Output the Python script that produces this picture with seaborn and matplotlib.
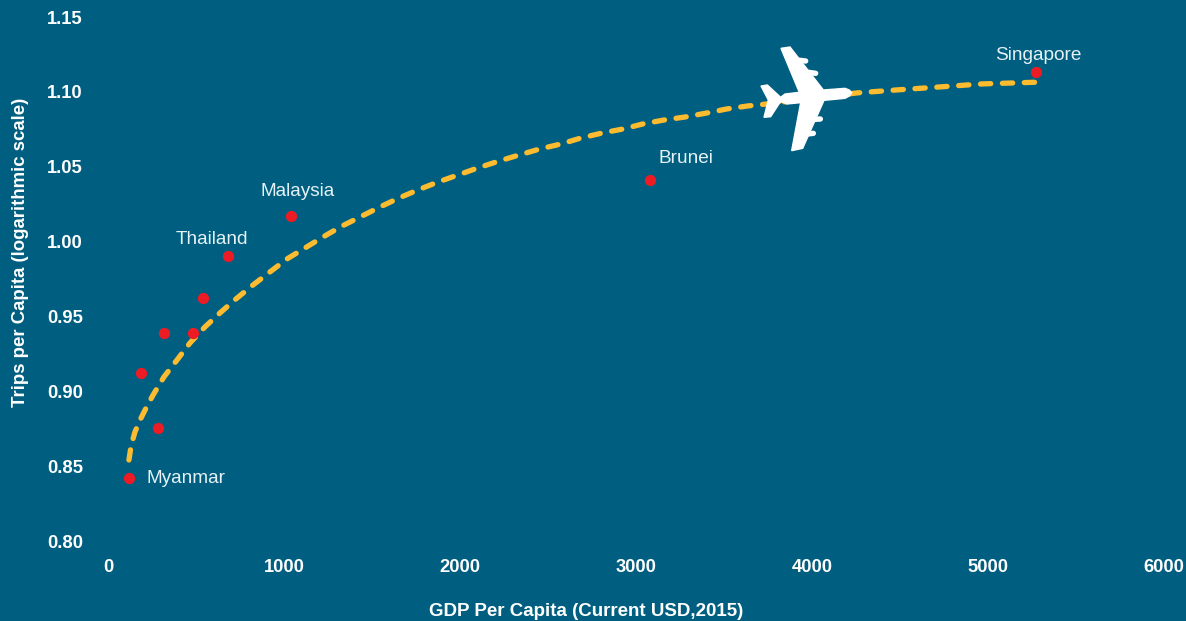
import matplotlib
matplotlib.use('Agg')
import matplotlib.pyplot as plt
from matplotlib.patches import Polygon
import pandas as pd
import seaborn as sns

# scatter points
countries = ['Myanmar', '', '', '', '', '', 'Thailand', 'Malaysia', 'Brunei', 'Singapore']
gdp = [119, 187, 284, 318, 483, 540, 682, 1040, 3080, 5273]
trips = [0.8421, 0.9122, 0.8755, 0.9389, 0.9389, 0.9623, 0.9904, 1.0171, 1.0411, 1.1133]

# fitted curve
curve_gdp = [119, 131, 153, 182, 216, 256, 318, 392, 466, 551, 636, 727, 824, 920, 1017, 1119, 1222, 1330,
             1432, 1545, 1653, 1761, 1875, 1989, 2102, 2222, 2335, 2455, 2574, 2688, 2807, 2926,
             3040, 3159, 3278, 3403, 3517, 3636, 3744, 4256, 4483, 4727, 4966, 5318]
curve_trips = [0.8541, 0.8635, 0.8728, 0.8808, 0.8888, 0.8975, 0.9096, 0.9209, 0.9323, 0.9430, 0.9523, 0.9617,
               0.9710, 0.9797, 0.9884, 0.9957, 1.0031, 1.0104, 1.0164, 1.0231, 1.0291, 1.0345,
               1.0398, 1.0445, 1.0492, 1.0538, 1.0578, 1.0619, 1.0652, 1.0692, 1.0725, 1.0752,
               1.0786, 1.0812, 1.0832, 1.0859, 1.0886, 1.0906, 1.0919, 1.0993, 1.1013, 1.1033,
               1.1053, 1.1066]

x_ticks = [0, 1000, 2000, 3000, 4000, 5000, 6000]
y_ticks = [0.80, 0.85, 0.90, 0.95, 1.00, 1.05, 1.10, 1.15]

BG = '#005F80'
W, H = 1186, 621

sns.set_theme(style='white')
plt.rcParams['font.family'] = ['Liberation Sans', 'DejaVu Sans']

df = pd.DataFrame({'gdp': gdp, 'trips': trips, 'country': countries})
curve = pd.DataFrame({'gdp': curve_gdp, 'trips': curve_trips})

fig = plt.figure(figsize=(W / 100, H / 100), dpi=100, facecolor=BG)
ax = fig.add_axes([108 / W, 1 - 541 / H, 1056 / W, 524 / H], facecolor=BG)

sns.lineplot(data=curve, x='gdp', y='trips', color='#FDBB30', linewidth=3.8, ax=ax, zorder=2,
             linestyle=(0, (1.95, 2.2)), dash_capstyle='round', estimator=None)
sns.scatterplot(data=df, x='gdp', y='trips', color='#ED1C24', s=66, linewidth=0, ax=ax, zorder=3)

ax.set_xlim(0, 6000)
ax.set_ylim(0.80, 1.15)
ax.set_xticks(x_ticks)
ax.set_yticks(y_ticks)
ax.set_yticklabels([f'{v:.2f}' for v in y_ticks])
ax.tick_params(axis='x', length=0, pad=13, labelsize=13.2, labelcolor='white')
ax.tick_params(axis='y', length=0, pad=18, labelsize=13.2, labelcolor='white')
for t in ax.get_xticklabels() + ax.get_yticklabels():
    t.set_fontweight('bold')
sns.despine(ax=ax, left=True, bottom=True)
ax.grid(False)

ax.set_xlabel('GDP Per Capita (Current USD,2015)', fontsize=13.5, fontweight='bold', color='white', va='center')
ax.set_ylabel('Trips per Capita (logarithmic scale)', fontsize=13.4, fontweight='bold', color='white', va='center')
ax.xaxis.set_label_coords(0.4527, -70 / 524)
ax.yaxis.set_label_coords(-0.0825, 0.5515)

# country labels, offset in points from their dot
offsets = {'Myanmar': (12.5, -0.5), 'Thailand': (-38, 12), 'Malaysia': (-22, 17.8),
           'Brunei': (6, 15.8), 'Singapore': (-29.5, 12)}
for _, row in df[df['country'] != ''].iterrows():
    ax.annotate(row['country'], (row['gdp'], row['trips']), xytext=offsets[row['country']],
                textcoords='offset points', color='#E6F2F5', fontsize=13.7, va='center', ha='left')

# plane, outline traced in pixels
def to_fig(px, py):
    return ((750 + px / 3) / W, 1 - (40 + py / 3) / H)

body = [(305, 158), (298, 168), (285, 175), (222, 181), (158, 325), (125, 332), (152, 188), (110, 192),
        (97, 185), (88, 190), (62, 230), (42, 232), (55, 180), (33, 138), (52, 135), (92, 172),
        (105, 162), (148, 157), (93, 25), (120, 21), (220, 150), (285, 145), (298, 150)]
ax.add_patch(Polygon([to_fig(*p) for p in body], closed=True, transform=fig.transFigure,
                     facecolor='white', edgecolor='white', linewidth=1, zorder=5, clip_on=False))
engines = [((140, 60), (167, 63)), ((175, 97), (197, 100)), ((195, 238), (211, 237)), ((172, 282), (190, 280))]
for a, b in engines:
    p0, p1 = to_fig(*a), to_fig(*b)
    ax.plot([p0[0], p1[0]], [p0[1], p1[1]], transform=fig.transFigure, color='white', linewidth=3.9,
            solid_capstyle='round', zorder=5, clip_on=False)

fig.savefig('out.png', dpi=100, facecolor=BG)
